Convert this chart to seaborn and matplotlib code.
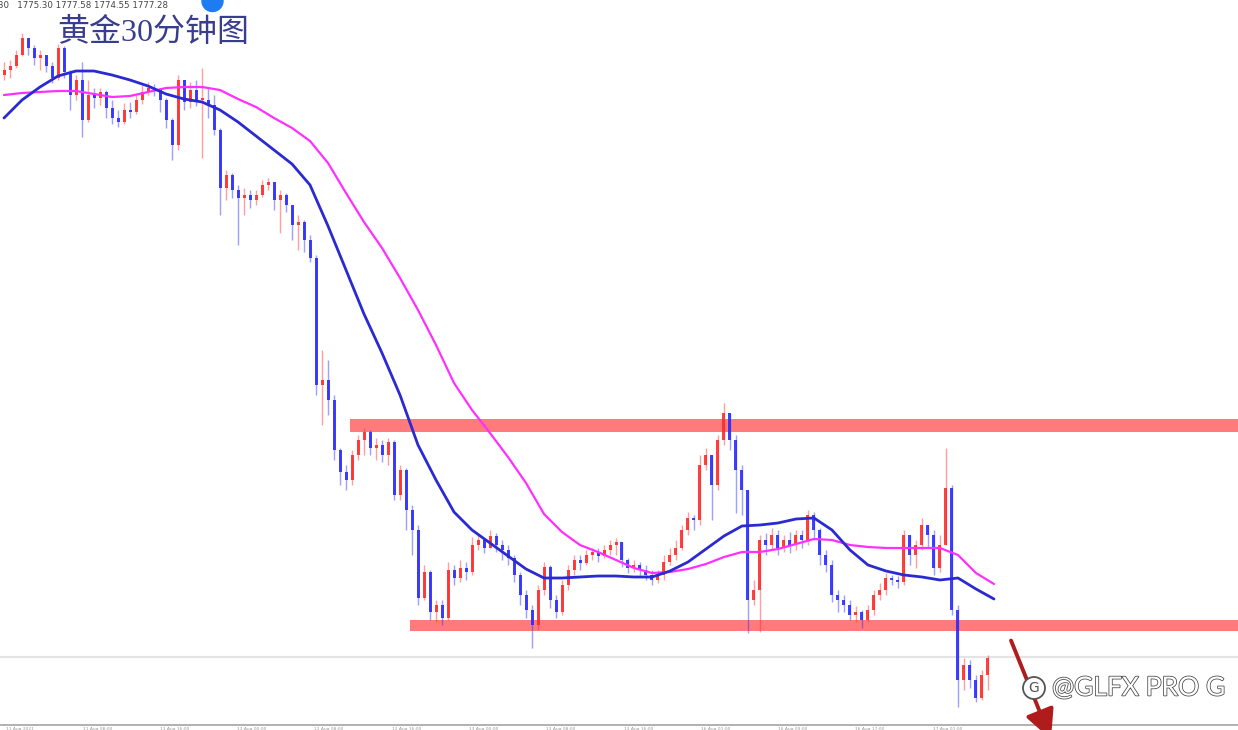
import numpy as np
import pandas as pd
import matplotlib
matplotlib.use("Agg")
import matplotlib.pyplot as plt
import matplotlib.patheffects as pe
from matplotlib.patches import Ellipse
import seaborn as sns

# ---- gold 30 min candles, prices ----
first_open = 1832.5

close = [
    1833.0, 1833.4, 1834.5, 1836.2, 1835.2, 1834.2, 1834.5, 1833.4, 1832.2, 1835.2,
    1832.8, 1830.5, 1832.0, 1828.0, 1830.5, 1830.2, 1830.8, 1829.2, 1828.2, 1827.8,
    1829.0, 1828.8, 1830.0, 1830.8, 1831.2, 1831.0, 1830.0, 1828.0, 1825.5, 1832.0,
    1829.8, 1831.0, 1830.0, 1830.0, 1829.5, 1827.0, 1821.2, 1822.5, 1821.0, 1820.2,
    1820.5, 1820.0, 1820.5, 1821.5, 1821.8, 1820.0, 1820.5, 1819.5, 1817.5, 1817.8,
    1816.0, 1814.2, 1801.5, 1802.0, 1800.0, 1795.0, 1792.8, 1792.0, 1794.5, 1796.0,
    1796.8, 1795.2, 1795.5, 1794.5, 1795.8, 1790.5, 1793.0, 1789.0, 1787.0, 1780.2,
    1782.8, 1778.8, 1779.5, 1778.2, 1783.0, 1782.2, 1783.2, 1782.8, 1785.5, 1786.0,
    1785.2, 1786.4, 1785.5, 1785.0, 1784.2, 1782.5, 1780.5, 1779.0, 1777.5, 1781.0,
    1783.3, 1780.0, 1778.8, 1781.5, 1783.0, 1784.0, 1783.7, 1784.5, 1784.8, 1784.4,
    1785.0, 1785.5, 1785.8, 1784.0, 1783.2, 1783.5, 1783.0, 1782.5, 1782.0, 1782.5,
    1783.8, 1784.5, 1785.2, 1787.0, 1788.2, 1788.0, 1793.5, 1794.5, 1791.5, 1796.0,
    1798.7, 1796.0, 1793.0, 1791.0, 1780.0, 1781.0, 1786.0, 1785.5, 1786.5, 1785.2,
    1786.0, 1785.5, 1786.5, 1786.0, 1788.5, 1787.0, 1784.5, 1783.5, 1780.5, 1780.0,
    1779.5, 1778.5, 1778.8, 1778.0, 1779.0, 1780.5, 1781.0, 1782.2, 1782.0, 1781.8,
    1786.5, 1784.5, 1785.5, 1787.5, 1786.5, 1783.2, 1785.5, 1791.2, 1779.0, 1772.0,
    1773.5, 1772.0, 1770.2, 1772.5, 1774.2,
]

high = [
    1833.8, 1834.0, 1835.0, 1836.7, 1836.0, 1835.5, 1835.0, 1834.5, 1833.8, 1835.6,
    1835.4, 1833.0, 1832.5, 1833.8, 1832.0, 1831.2, 1831.2, 1831.0, 1830.0, 1829.0,
    1829.7, 1829.8, 1830.5, 1831.5, 1831.8, 1831.6, 1831.2, 1830.2, 1828.2, 1832.5,
    1832.0, 1831.8, 1832.0, 1833.2, 1831.2, 1830.5, 1827.2, 1823.0, 1822.7, 1821.5,
    1821.2, 1821.0, 1821.0, 1822.0, 1822.2, 1821.7, 1821.0, 1820.7, 1819.5, 1818.5,
    1818.0, 1816.5, 1814.5, 1805.0, 1804.0, 1800.5, 1795.2, 1793.5, 1795.0, 1796.5,
    1797.2, 1797.0, 1796.2, 1796.0, 1796.2, 1796.0, 1793.5, 1793.2, 1789.5, 1787.5,
    1783.5, 1783.0, 1780.0, 1780.0, 1783.8, 1783.5, 1784.0, 1783.8, 1786.3, 1786.5,
    1786.2, 1787.0, 1786.7, 1786.0, 1785.5, 1784.5, 1782.8, 1781.0, 1779.5, 1781.5,
    1783.8, 1783.5, 1780.5, 1782.0, 1783.5, 1784.5, 1784.5, 1785.0, 1785.2, 1785.2,
    1785.5, 1786.0, 1786.2, 1785.8, 1784.2, 1784.0, 1783.8, 1783.5, 1783.0, 1783.0,
    1784.5, 1785.2, 1786.0, 1787.5, 1788.8, 1788.5, 1794.5, 1795.2, 1794.5, 1796.5,
    1799.7, 1798.2, 1796.5, 1793.5, 1789.0, 1782.0, 1786.5, 1786.7, 1787.2, 1787.0,
    1786.5, 1786.8, 1787.0, 1787.0, 1789.0, 1788.8, 1787.2, 1785.0, 1784.0, 1781.0,
    1780.5, 1780.0, 1779.4, 1779.0, 1779.5, 1781.0, 1781.7, 1782.7, 1782.5, 1782.4,
    1787.0, 1786.3, 1786.0, 1788.2, 1787.5, 1787.0, 1786.5, 1795.2, 1791.5, 1779.5,
    1774.2, 1774.0, 1772.5, 1773.0, 1774.5,
]

low = [
    1832.0, 1832.2, 1833.2, 1834.4, 1834.5, 1833.5, 1833.0, 1832.8, 1831.7, 1832.0,
    1832.2, 1829.0, 1830.0, 1826.3, 1827.8, 1829.2, 1829.5, 1828.2, 1827.6, 1827.3,
    1827.6, 1828.2, 1828.6, 1829.6, 1830.5, 1830.4, 1828.8, 1827.2, 1824.0, 1825.0,
    1829.0, 1829.2, 1829.4, 1824.2, 1828.2, 1826.5, 1818.5, 1820.0, 1820.2, 1815.5,
    1818.5, 1819.2, 1819.5, 1820.3, 1821.0, 1819.0, 1816.7, 1818.8, 1816.0, 1815.0,
    1814.8, 1813.8, 1800.5, 1797.5, 1798.5, 1794.0, 1791.5, 1791.0, 1791.5, 1794.0,
    1794.5, 1794.5, 1794.0, 1793.8, 1793.5, 1790.0, 1790.0, 1787.0, 1784.5, 1779.5,
    1780.0, 1778.0, 1777.8, 1777.5, 1778.0, 1781.5, 1781.8, 1782.0, 1782.5, 1785.0,
    1784.7, 1785.2, 1784.8, 1784.0, 1783.5, 1781.8, 1779.5, 1778.2, 1775.2, 1777.0,
    1780.5, 1779.2, 1778.2, 1778.5, 1781.0, 1782.5, 1783.0, 1783.5, 1784.0, 1783.8,
    1784.2, 1784.5, 1784.5, 1783.3, 1782.7, 1782.8, 1782.5, 1782.0, 1781.5, 1781.7,
    1782.0, 1783.5, 1784.0, 1785.0, 1786.5, 1787.0, 1787.5, 1793.0, 1788.0, 1791.0,
    1795.5, 1795.0, 1788.7, 1788.5, 1776.7, 1779.5, 1776.8, 1784.5, 1785.0, 1784.5,
    1784.8, 1784.7, 1785.0, 1785.2, 1785.5, 1786.0, 1783.5, 1782.8, 1779.8, 1778.8,
    1778.8, 1778.0, 1777.8, 1777.2, 1777.8, 1778.5, 1780.0, 1780.5, 1781.5, 1781.2,
    1781.5, 1783.5, 1783.2, 1785.0, 1785.2, 1782.5, 1782.8, 1785.5, 1778.5, 1769.3,
    1771.0, 1771.2, 1769.8, 1770.0, 1771.0,
]

# moving averages, read every third candle
ma_fast = [
    1828.2, 1830.0, 1831.3, 1832.4, 1832.9, 1832.9, 1832.5, 1832.0, 1831.4, 1830.6,
    1830.1, 1829.8, 1829.0, 1827.8, 1826.4, 1825.0, 1823.6, 1821.5, 1817.4, 1813.0,
    1808.6, 1804.7, 1800.5, 1795.5, 1792.0, 1788.8, 1787.0, 1785.7, 1784.4, 1783.1,
    1782.2, 1782.2, 1782.3, 1782.4, 1782.4, 1782.3, 1782.3, 1782.9, 1783.8, 1785.1,
    1786.4, 1787.4, 1787.5, 1787.7, 1788.1, 1788.2, 1787.0, 1785.0, 1783.5, 1782.9,
    1782.5, 1782.3, 1782.0, 1782.2, 1781.1, 1780.1,
]
ma_slow = [
    1830.5, 1830.7, 1830.8, 1830.9, 1830.9, 1830.6, 1830.3, 1830.4, 1830.8, 1831.2,
    1831.3, 1831.3, 1831.0, 1830.1, 1829.3, 1828.2, 1827.2, 1825.9, 1823.7, 1820.7,
    1817.8, 1815.2, 1812.2, 1809.0, 1805.5, 1801.7, 1799.0, 1796.7, 1794.3, 1791.7,
    1788.6, 1786.8, 1785.5, 1784.8, 1784.0, 1783.2, 1782.7, 1782.8, 1783.1, 1783.6,
    1784.3, 1784.8, 1784.8, 1785.1, 1785.6, 1786.1, 1786.0, 1785.5, 1785.3, 1785.2,
    1785.2, 1785.2, 1785.2, 1784.5, 1782.7, 1781.6,
]

resistance = (1796.8, 1798.1)
support = (1776.9, 1778.0)
zone_start = [57.7, 67.7]          # candle index where each zone begins
grid_level = 1774.3

tick_labels = ["11 Aug 2021", "11 Aug 08:00", "11 Aug 16:00", "12 Aug 00:00",
               "12 Aug 08:00", "12 Aug 16:00", "13 Aug 00:00", "13 Aug 08:00",
               "13 Aug 16:00", "16 Aug 01:00", "16 Aug 09:00", "16 Aug 17:00",
               "17 Aug 01:00"]
quote_text = "30   1775.30 1777.58 1774.55 1777.28"
title = "黄金30分钟图"
watermark = "@GLFX PRO G"

# ---- build frame ----
df = pd.DataFrame({"close": close, "high": high, "low": low})
df["open"] = [first_open] + close[:-1]
df["idx"] = np.arange(len(df))
df["high"] = df[["high", "open", "close"]].max(axis=1)
df["low"] = df[["low", "open", "close"]].min(axis=1)
df["up"] = df["close"] >= df["open"]
ma_idx = np.arange(0, 3 * len(ma_fast), 3)

W, H = 1238, 730
sns.set_theme(style="white")
plt.rcParams["font.family"] = ["DejaVu Sans", "Noto Sans CJK SC"]

fig = plt.figure(figsize=(W / 100, H / 100), dpi=100)
ax = fig.add_axes([0, 5 / H, 1, (H - 5) / H])
ax.set_xlim(-0.67, 205.67)
ax.set_ylim(1767.5, 1840)

# support / resistance zones
for (lo, hi), start in zip([resistance, support], zone_start):
    ax.fill_between([start, 210], lo, hi, color="#ff7b7b", lw=0, zorder=1)

ax.axhline(grid_level, color="#e4e4e4", lw=1.5, zorder=0)

# candles
colors = np.where(df["up"], "#ff2b2b", "#2b2bff")
ax.vlines(df["idx"], df["low"], df["high"], colors=colors, lw=1.0, alpha=0.45, zorder=2)
body = (df["close"] - df["open"]).abs().clip(lower=0.2)
ax.bar(df["idx"], body, bottom=df[["open", "close"]].min(axis=1), width=0.5,
       color=colors, alpha=0.9, linewidth=0, zorder=3)

# moving averages
sns.lineplot(x=ma_idx, y=ma_slow, ax=ax, color="#ff30ff", lw=1.6, zorder=4)
sns.lineplot(x=ma_idx, y=ma_fast, ax=ax, color="#2a2ad2", lw=2.0, zorder=5)

# axes styling
ax.set_yticks([])
ax.set_xticks(2.67 + 12.88 * np.arange(len(tick_labels)), tick_labels)
ax.tick_params(axis="x", length=1.5, color="#999999", labelsize=3.2,
               labelcolor="#999999", pad=0.2)
for side in ["left", "right", "top"]:
    ax.spines[side].set_visible(False)
ax.spines["bottom"].set_color("#a8a8a8")
ax.set_xlabel("")
ax.set_ylabel("")

# texts
fig.text(-2 / W, 1 - 5 / H, quote_text, fontsize=6.2, color="#444444", va="center", ha="left")
fig.text(57 / W, 1 - 33 / H, title, fontsize=23, color="#383d8f", va="center", ha="left",
         family=["Liberation Serif", "Noto Sans CJK SC"])
fig.patches.append(Ellipse((212.5 / W, 1 - 1 / H), 21 / W, 21 / H, color="#1c7cf0",
                           transform=fig.transFigure, figure=fig))

# down arrow
ax.annotate("", xy=(1052, -12), xytext=(1010, 92), xycoords="figure pixels",
            textcoords="figure pixels", annotation_clip=False,
            arrowprops=dict(arrowstyle="-|>,head_length=1.0,head_width=0.5",
                            color="#b01c1c", lw=2.8, mutation_scale=18))

# watermark
fig.patches.append(Ellipse((1034 / W, (H - 688) / H), 22 / W, 22 / H, facecolor="white",
                           edgecolor="#555555", lw=1.3, transform=fig.transFigure,
                           figure=fig, zorder=10))
fig.text(1034 / W, (H - 688) / H, "G", fontsize=10, color="#555555", ha="center",
         va="center", zorder=11)
fig.text(1052 / W, (H - 688) / H, watermark, fontsize=19, color="white", va="center",
         ha="left", family="Lato",
         path_effects=[pe.withStroke(linewidth=1.1, foreground="#444444")])

fig.savefig("out.png", dpi=100)
